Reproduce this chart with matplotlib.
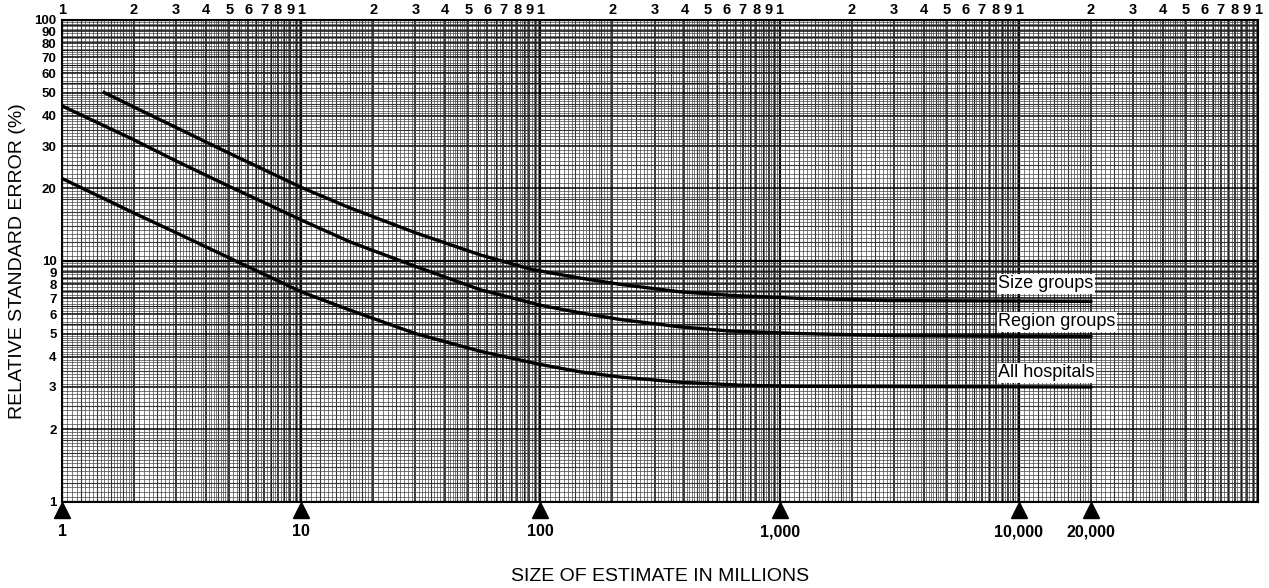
import numpy as np
import matplotlib.pyplot as plt
from matplotlib.ticker import NullLocator
from matplotlib.transforms import blended_transform_factory

plt.rcParams['font.family'] = ['Liberation Sans', 'DejaVu Sans']

# curve readings (size of estimate in millions, relative standard error in %)
size_x = [1.5, 2, 3, 5, 10, 16, 30, 56, 93, 146, 215, 383, 620, 1200, 2800, 20000]
size_y = [50, 43.5, 35.8, 28.0, 20.2, 16.6, 13.1, 10.6, 9.2, 8.5, 8.0, 7.45, 7.2, 7.0, 6.85, 6.8]

region_x = [1, 2, 3, 5, 10, 16, 30, 56, 100, 146, 215, 383, 620, 1200, 3000, 20000]
region_y = [44, 31.8, 26.0, 20.4, 14.8, 12.0, 9.5, 7.6, 6.55, 6.1, 5.72, 5.33, 5.12, 5.0, 4.9, 4.85]

all_x = [1, 2, 3, 5, 10, 16, 30, 56, 100, 146, 215, 383, 700, 1200, 20000]
all_y = [22, 15.8, 13.1, 10.3, 7.45, 6.25, 5.0, 4.22, 3.72, 3.47, 3.3, 3.14, 3.05, 3.02, 3.0]

curve_names = ['Size groups', 'Region groups', 'All hospitals']
name_y = [8.05, 5.6, 3.43]
name_x = 8200

marker_x = [1, 10, 100, 1000, 10000, 20000]
marker_labels = ['1', '10', '100', '1,000', '10,000', '20,000']

y_ticks = [1, 2, 3, 4, 5, 6, 7, 8, 9, 10, 20, 30, 40, 50, 60, 70, 80, 90, 100]
top_digits = ['1', '2', '3', '4', '5', '6', '7', '8', '9']


def paper_lines(n_decades):
    # positions of the printed log-paper rulings, by weight
    heavy, major, medium, fine = [], [], [], []
    for d in range(n_decades):
        base = 10.0 ** d
        heavy.append(base)
        major += [m * base for m in range(2, 10)]
        medium += [m * base for m in np.arange(1.2, 1.95, 0.2)]
        medium += [m * base for m in np.arange(2.5, 9.6, 1.0)]
        fine += [m * base for m in np.arange(1.05, 1.99, 0.05)]
        fine += [m * base for m in np.arange(2.1, 4.95, 0.1)]
        fine += [m * base for m in np.arange(5.2, 9.9, 0.2)]
    heavy.append(10.0 ** n_decades)
    return heavy, major, medium, fine


fig = plt.figure(figsize=(12.69, 5.88), dpi=100)
ax = fig.add_axes([0.0489, 0.1463, 0.9424, 0.8197])
ax.set_xscale('log')
ax.set_yscale('log')
ax.set_xlim(1, 1e5)
ax.set_ylim(1, 100)

styles = [(1.6, 'black'), (1.1, 'black'), (0.8, '#1a1a1a'), (0.5, '#444444')]
for pos, (lw, col) in zip(paper_lines(5), styles):
    ax.vlines(pos, 1, 100, colors=col, linewidth=lw, zorder=1)
for pos, (lw, col) in zip(paper_lines(2), styles):
    ax.hlines(pos, 1, 1e5, colors=col, linewidth=lw, zorder=1)

ax.plot(size_x, size_y, color='black', lw=2.4, zorder=3)
ax.plot(region_x, region_y, color='black', lw=2.4, zorder=3)
ax.plot(all_x, all_y, color='black', lw=2.4, zorder=3)

for name, yv in zip(curve_names, name_y):
    ax.text(name_x, yv, name, fontsize=13, ha='left', va='center', zorder=4,
            bbox=dict(facecolor='white', edgecolor='none', pad=1.2))

# y labels on the left
ax.set_yticks(y_ticks, labels=[str(v) for v in y_ticks])
ax.yaxis.set_minor_locator(NullLocator())
ax.tick_params(axis='y', length=0, pad=4, labelsize=9.5)
for t in ax.get_yticklabels():
    t.set_fontweight('bold')

# cycle digits along the top
top_pos = [m * 10.0 ** d for d in range(5) for m in range(1, 10)] + [1e5]
top_lab = top_digits * 5 + ['1']
ax.xaxis.tick_top()
ax.set_xticks(top_pos, labels=top_lab)
ax.xaxis.set_minor_locator(NullLocator())
ax.tick_params(axis='x', length=0, pad=2, labelsize=10.5)
for t in ax.get_xticklabels():
    t.set_fontweight('bold')

for s in ax.spines.values():
    s.set_linewidth(1.5)

# triangles and labels under the grid
trans = blended_transform_factory(ax.transData, ax.transAxes)
ax.plot(marker_x, [-0.017] * len(marker_x), linestyle='none', marker='^',
        markersize=11, color='black', transform=trans, clip_on=False)
for xv, lab in zip(marker_x, marker_labels):
    ax.text(xv, -0.062, lab, transform=trans, ha='center', va='center',
            fontsize=11.5, fontweight='bold')

fig.text(0.52, 0.019, 'SIZE OF ESTIMATE IN MILLIONS', ha='center', va='center', fontsize=14)
fig.text(0.0134, 0.556, 'RELATIVE STANDARD ERROR (%)', ha='center', va='center',
         rotation=90, fontsize=14)

fig.savefig('out.png', dpi=100)
